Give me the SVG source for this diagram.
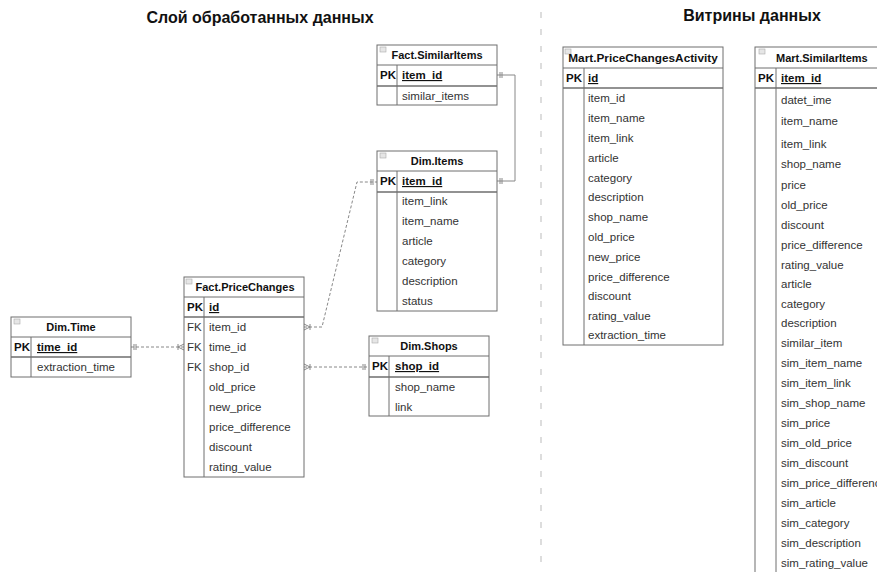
<svg xmlns="http://www.w3.org/2000/svg" width="877" height="572" viewBox="0 0 877 572">
<style>
.box{fill:#fff;stroke:#6e6e6e;stroke-width:1}
.ln{stroke:#6e6e6e;stroke-width:1;fill:none}
.lnb{stroke:#6e6e6e;stroke-width:1.6;fill:none}
.hd{font-family:"Liberation Sans",Arial,sans-serif;font-size:11px;font-weight:bold;fill:#111}
.pk{font-family:"Liberation Sans",Arial,sans-serif;font-size:11.5px;font-weight:bold;fill:#111}
.pkf{font-family:"Liberation Sans",Arial,sans-serif;font-size:11.5px;font-weight:bold;fill:#111;text-decoration:underline}
.f{font-family:"Liberation Sans",Arial,sans-serif;font-size:11.5px;fill:#333}
.ttl{font-family:"Liberation Sans",Arial,sans-serif;font-size:16px;font-weight:bold;fill:#111}
.ic{fill:#e6e6e6;stroke:#aaa;stroke-width:0.6}
.con{stroke:#888;stroke-width:1;fill:none}
.dash{stroke:#888;stroke-width:1;fill:none;stroke-dasharray:3 2}
.mk{stroke:#888;stroke-width:1;fill:none}
</style>
<rect width="877" height="572" fill="#fff"/>
<text class="ttl" x="260" y="23" text-anchor="middle">Слой обработанных данных</text>
<text class="ttl" x="752" y="21" text-anchor="middle">Витрины данных</text>
<line x1="541" y1="12" x2="541" y2="572" stroke="#bbb" stroke-width="1" stroke-dasharray="6 11"/>

<g id="connectors">
<path class="con" d="M497,75 H515 V181 H497"/>
<path class="mk" d="M500,72 V78 M502,72 V78 M500,178 V184 M502,178 V184"/>
<path class="dash" d="M304,327 H322 L357,182 H377"/>
<path class="mk" d="M304,324 L310,327 L304,330 M310,324 V330 M371,179 V185 M373,179 V185"/>
<path class="dash" d="M131,347 H184"/>
<path class="mk" d="M134,344 V350 M136,344 V350 M184,344 L178,347 L184,350 M178,344 V350"/>
<path class="dash" d="M304,367 H369"/>
<path class="mk" d="M304,364 L310,367 L304,370 M310,364 V370 M363,364 V370 M365,364 V370"/>
</g>

<g id="fact-similaritems">
<rect class="box" x="377" y="45" width="120" height="60"/>
<rect class="ic" x="380" y="47" width="6" height="5"/>
<text class="hd" x="437" y="59" text-anchor="middle">Fact.SimilarItems</text>
<line class="ln" x1="377" y1="65" x2="497" y2="65"/>
<line class="lnb" x1="377" y1="86" x2="497" y2="86"/>
<line class="ln" x1="397" y1="65" x2="397" y2="105"/>
<text class="pk" x="380" y="79">PK</text>
<text class="pkf" x="402" y="79">item_id</text>
<text class="f" x="402" y="100">similar_items</text>
</g>

<g id="dim-items">
<rect class="box" x="377" y="151" width="120" height="160"/>
<rect class="ic" x="380" y="153" width="6" height="5"/>
<text class="hd" x="437" y="165" text-anchor="middle">Dim.Items</text>
<line class="ln" x1="377" y1="171" x2="497" y2="171"/>
<line class="lnb" x1="377" y1="192" x2="497" y2="192"/>
<line class="ln" x1="397" y1="171" x2="397" y2="311"/>
<text class="pk" x="380" y="185">PK</text>
<text class="pkf" x="402" y="185">item_id</text>
<text class="f" x="402" y="205">item_link</text>
<text class="f" x="402" y="225">item_name</text>
<text class="f" x="402" y="245">article</text>
<text class="f" x="402" y="265">category</text>
<text class="f" x="402" y="285">description</text>
<text class="f" x="402" y="305">status</text>
</g>

<g id="fact-pricechanges">
<rect class="box" x="184" y="277" width="120" height="200"/>
<rect class="ic" x="186" y="279" width="6" height="5"/>
<text class="hd" x="245" y="291" text-anchor="middle">Fact.PriceChanges</text>
<line class="ln" x1="184" y1="297" x2="304" y2="297"/>
<line class="lnb" x1="184" y1="317" x2="304" y2="317"/>
<line class="ln" x1="204" y1="297" x2="204" y2="477"/>
<text class="pk" x="187" y="311">PK</text>
<text class="pkf" x="209" y="311">id</text>
<text class="f" x="187" y="331">FK</text>
<text class="f" x="209" y="331">item_id</text>
<text class="f" x="187" y="351">FK</text>
<text class="f" x="209" y="351">time_id</text>
<text class="f" x="187" y="371">FK</text>
<text class="f" x="209" y="371">shop_id</text>
<text class="f" x="209" y="391">old_price</text>
<text class="f" x="209" y="411">new_price</text>
<text class="f" x="209" y="431">price_difference</text>
<text class="f" x="209" y="451">discount</text>
<text class="f" x="209" y="471">rating_value</text>
</g>

<g id="dim-time">
<rect class="box" x="11" y="317" width="120" height="60"/>
<rect class="ic" x="14" y="319" width="6" height="5"/>
<text class="hd" x="71" y="331" text-anchor="middle">Dim.Time</text>
<line class="ln" x1="11" y1="337" x2="131" y2="337"/>
<line class="lnb" x1="11" y1="357" x2="131" y2="357"/>
<line class="ln" x1="31" y1="337" x2="31" y2="377"/>
<text class="pk" x="14" y="351">PK</text>
<text class="pkf" x="37" y="351">time_id</text>
<text class="f" x="37" y="371">extraction_time</text>
</g>

<g id="dim-shops">
<rect class="box" x="369" y="336" width="120" height="80"/>
<rect class="ic" x="372" y="338" width="6" height="5"/>
<text class="hd" x="429" y="350" text-anchor="middle">Dim.Shops</text>
<line class="ln" x1="369" y1="356" x2="489" y2="356"/>
<line class="lnb" x1="369" y1="377" x2="489" y2="377"/>
<line class="ln" x1="389" y1="356" x2="389" y2="416"/>
<text class="pk" x="372" y="370">PK</text>
<text class="pkf" x="395" y="370">shop_id</text>
<text class="f" x="395" y="391">shop_name</text>
<text class="f" x="395" y="411">link</text>
</g>

<g id="mart-pricechangesactivity">
<rect class="box" x="563" y="47" width="160" height="298"/>
<rect class="ic" x="565" y="49" width="6" height="5"/>
<text class="hd" x="643" y="62" text-anchor="middle" style="font-size:11.8px">Mart.PriceChangesActivity</text>
<line class="ln" x1="563" y1="68" x2="723" y2="68"/>
<line class="lnb" x1="563" y1="88" x2="723" y2="88"/>
<line class="ln" x1="584" y1="68" x2="584" y2="345"/>
<text class="pk" x="566" y="82">PK</text>
<text class="pkf" x="588" y="82">id</text>
<text class="f" x="588" y="102">item_id</text>
<text class="f" x="588" y="122">item_name</text>
<text class="f" x="588" y="142">item_link</text>
<text class="f" x="588" y="162">article</text>
<text class="f" x="588" y="182">category</text>
<text class="f" x="588" y="201">description</text>
<text class="f" x="588" y="221">shop_name</text>
<text class="f" x="588" y="241">old_price</text>
<text class="f" x="588" y="261">new_price</text>
<text class="f" x="588" y="281">price_difference</text>
<text class="f" x="588" y="300">discount</text>
<text class="f" x="588" y="320">rating_value</text>
<text class="f" x="588" y="339">extraction_time</text>
</g>

<g id="mart-similaritems">
<rect class="box" x="755" y="47" width="140" height="540"/>
<rect class="ic" x="759" y="49" width="6" height="5"/>
<text class="hd" x="776" y="62">Mart.SimilarItems</text>
<line class="ln" x1="755" y1="68" x2="877" y2="68"/>
<line class="lnb" x1="755" y1="88" x2="877" y2="88"/>
<line class="ln" x1="776" y1="68" x2="776" y2="572"/>
<text class="pk" x="758" y="82">PK</text>
<text class="pkf" x="781" y="82">item_id</text>
<text class="f" x="781" y="104">datet_ime</text>
<text class="f" x="781" y="125">item_name</text>
<text class="f" x="781" y="148">item_link</text>
<text class="f" x="781" y="168">shop_name</text>
<text class="f" x="781" y="189">price</text>
<text class="f" x="781" y="209">old_price</text>
<text class="f" x="781" y="229">discount</text>
<text class="f" x="781" y="249">price_difference</text>
<text class="f" x="781" y="269">rating_value</text>
<text class="f" x="781" y="288">article</text>
<text class="f" x="781" y="308">category</text>
<text class="f" x="781" y="327">description</text>
<text class="f" x="781" y="347">similar_item</text>
<text class="f" x="781" y="367">sim_item_name</text>
<text class="f" x="781" y="387">sim_item_link</text>
<text class="f" x="781" y="407">sim_shop_name</text>
<text class="f" x="781" y="427">sim_price</text>
<text class="f" x="781" y="447">sim_old_price</text>
<text class="f" x="781" y="467">sim_discount</text>
<text class="f" x="781" y="487">sim_price_difference</text>
<text class="f" x="781" y="507">sim_article</text>
<text class="f" x="781" y="527">sim_category</text>
<text class="f" x="781" y="547">sim_description</text>
<text class="f" x="781" y="567">sim_rating_value</text>
</g>
</svg>
